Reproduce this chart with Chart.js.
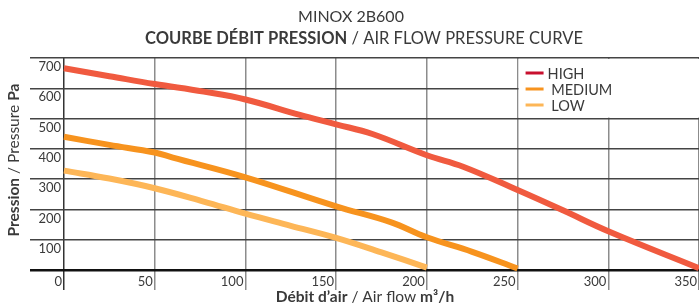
<!DOCTYPE html>
<html>
<head>
<meta charset="utf-8">
<script src="https://cdn.jsdelivr.net/npm/chart.js@4.4.1/dist/chart.umd.min.js"></script>
<style>
  html, body { margin: 0; padding: 0; background: #fff; }
  #wrap { width: 699px; height: 307px; position: relative; }
</style>
</head>
<body>
<div id="wrap"><canvas id="curve"></canvas></div>
<script>
/* ---- data ---- */
const highFlow   = [0, 25, 50, 77, 100, 130, 150, 170, 200, 220, 250, 275, 300, 350];
const highPa     = [666, 640, 614, 589, 563, 512, 481, 449, 379, 341, 264, 197, 128, 6];
const mediumFlow = [0, 25, 50, 60, 100, 150, 180, 200, 225, 250];
const mediumPa   = [440, 413, 388, 371, 306, 210, 158, 108, 60, 5];
const lowFlow    = [0, 25, 50, 77, 100, 125, 150, 175, 200];
const lowPa      = [328, 302, 270, 226, 186, 146, 106, 58, 8];

const xTicks = [0, 50, 100, 150, 200, 250, 300, 350];
const yTicks = [0, 100, 200, 300, 400, 500, 600, 700];

const FONT = 'Lato, "DejaVu Sans", sans-serif';
const TEXT = '#3a3a3a';

const toPts = (xs, ys) => xs.map((x, i) => ({ x, y: ys[i] }));

// draw a line of text made of bold / regular runs
function drawRuns(ctx, runs, cx, cy, size) {
  let total = 0;
  runs.forEach(r => {
    ctx.font = (r.b ? 'bold ' : '') + size + 'px ' + FONT;
    r.w = ctx.measureText(r.t).width;
    total += r.w;
  });
  let x = cx - total / 2;
  ctx.textBaseline = 'middle';
  ctx.textAlign = 'left';
  runs.forEach(r => {
    ctx.font = (r.b ? 'bold ' : '') + size + 'px ' + FONT;
    ctx.fillText(r.t, x, cy);
    x += r.w;
  });
}

const textPlugin = {
  id: 'texts',
  afterDraw(chart) {
    const ctx = chart.ctx;
    ctx.save();
    ctx.fillStyle = TEXT;
    drawRuns(ctx, [{ t: 'MINOX 2B600' }], 351, 17, 16);
    drawRuns(ctx, [{ t: 'COURBE DÉBIT PRESSION', b: true }, { t: ' / AIR FLOW PRESSURE CURVE' }], 364, 39, 16.5);
    drawRuns(ctx, [{ t: 'Débit d\u2019air', b: true }, { t: ' / Air flow ' }, { t: 'm³/h', b: true }], 365, 297, 15.5);
    ctx.translate(14, 160);
    ctx.rotate(-Math.PI / 2);
    drawRuns(ctx, [{ t: 'Pression', b: true }, { t: ' / Pressure ' }, { t: 'Pa', b: true }], 0, 0, 15.5);
    ctx.restore();
  }
};

// legend in a white box over the top-right grid cells
const boxLegend = {
  id: 'boxLegend',
  beforeDatasetsDraw(chart) {
    const { ctx, chartArea, scales } = chart;
    const x0 = scales.x.getPixelForValue(250) + 1;
    const y1 = scales.y.getPixelForValue(500) - 1;
    ctx.save();
    ctx.fillStyle = '#fff';
    ctx.fillRect(x0, chartArea.top + 1, chartArea.right - x0 + 2, y1 - chartArea.top - 1);
    chart.data.datasets.forEach((ds, i) => {
      const y = 73 + i * 16;
      ctx.strokeStyle = ds.legendColor;
      ctx.lineWidth = 3;
      ctx.beginPath();
      ctx.moveTo(x0 + 7, y);
      ctx.lineTo(x0 + 25, y);
      ctx.stroke();
      ctx.fillStyle = TEXT;
      ctx.font = '14.5px ' + FONT;
      ctx.textBaseline = 'middle';
      ctx.fillText(ds.label, x0 + 29, y + 1);
    });
    ctx.restore();
  }
};

new Chart(document.getElementById('curve'), {
  type: 'line',
  data: {
    datasets: [
      { label: 'HIGH',    data: toPts(highFlow, highPa),     borderColor: '#f05a3f', legendColor: '#c8102e' },
      { label: ' MEDIUM', data: toPts(mediumFlow, mediumPa), borderColor: '#f7931e', legendColor: '#f7931e' },
      { label: ' LOW',    data: toPts(lowFlow, lowPa),       borderColor: '#fdb657', legendColor: '#fdb657' }
    ].map(d => Object.assign(d, { borderWidth: 6, pointRadius: 0, tension: 0.4, fill: false, clip: 4 }))
  },
  options: {
    responsive: true,
    maintainAspectRatio: false,
    animation: false,
    layout: { padding: { top: 58, left: 0, right: 0, bottom: 0 } },
    plugins: { legend: { display: false }, tooltip: { enabled: false }, title: { display: false } },
    scales: {
      x: {
        type: 'linear', min: 0, max: 350,
        afterBuildTicks: s => { s.ticks = xTicks.map(v => ({ value: v })); },
        afterFit: s => { s.height = 37; },
        border: { display: false },
        grid: {
          color: c => c.tick && c.tick.value === 0 ? '#333' : '#8c8c8c',
          lineWidth: 1.5,
          tickLength: 20
        },
        ticks: { align: 'end', padding: -16, labelOffset: -2, color: TEXT, font: { family: FONT, size: 13 } }
      },
      y: {
        min: 0, max: 700,
        afterBuildTicks: s => { s.ticks = yTicks.map(v => ({ value: v })); },
        afterFit: s => { s.width = 64; },
        border: { display: false },
        grid: {
          color: c => c.tick && c.tick.value === 0 ? '#111' : '#444',
          lineWidth: c => c.tick && c.tick.value === 0 ? 2.5 : 1.5,
          tickLength: 34
        },
        ticks: {
          padding: -31, labelOffset: 9, color: TEXT, font: { family: FONT, size: 13 },
          callback: v => v === 0 ? '' : v
        }
      }
    }
  },
  plugins: [boxLegend, textPlugin]
});
</script>
</body>
</html>
